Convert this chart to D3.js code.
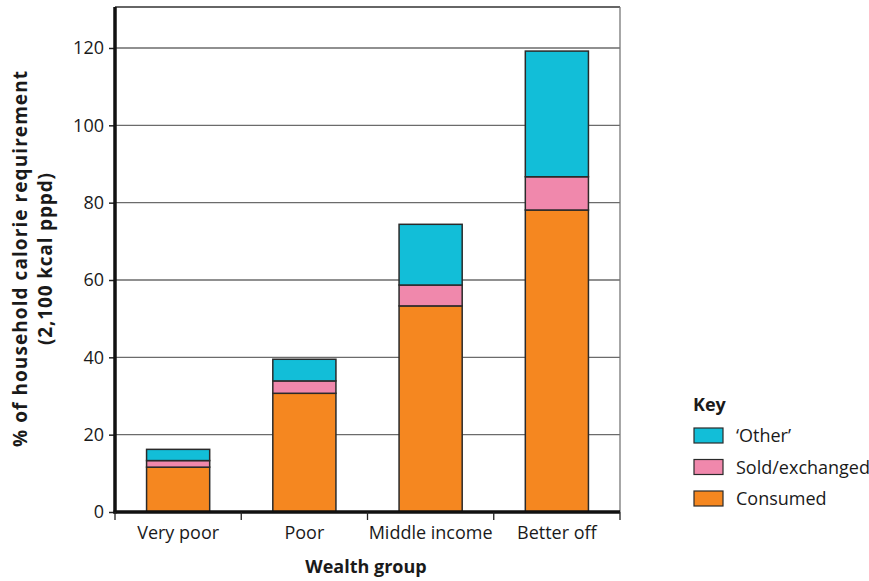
<!DOCTYPE html>
<html><head><meta charset="utf-8">
<script src="https://cdn.jsdelivr.net/npm/d3@7"></script>
<style>body{margin:0;background:#fff;} text{font-family:"Open Sans", Lato, sans-serif;fill:#1a1a1a;}</style>
</head><body>
<svg id="c" width="869" height="581"></svg>
<script>
const categories = ["Very poor", "Poor", "Middle income", "Better off"];
const consumed = [11.6, 30.7, 53.3, 78.1];
const sold = [1.7, 3.2, 5.4, 8.6];
const other = [2.9, 5.6, 15.7, 32.5];
const seriesNames = ["Consumed", "Sold/exchanged", "\u2018Other\u2019"];
const seriesColors = ["#F58720", "#F088AC", "#12BED8"];
const yTicks = [0, 20, 40, 60, 80, 100, 120];

const svg = d3.select("#c");
const L = 115, R = 620, T = 7, B = 512;
const x = d3.scaleBand().domain(categories).range([L, R]).paddingInner(0.5).paddingOuter(0.25);
const y = d3.scaleLinear().domain([0, 130.6]).range([B, T]);

const rows = categories.map((c, i) => ({cat: c, Consumed: consumed[i], "Sold/exchanged": sold[i], "\u2018Other\u2019": other[i]}));
const stacked = d3.stack().keys(seriesNames)(rows);

// gridlines
svg.append("g").selectAll("line").data(yTicks.filter(d => d > 0)).join("line")
  .attr("x1", L).attr("x2", R).attr("y1", d => y(d)).attr("y2", d => y(d))
  .attr("stroke", "#6b6b6b").attr("stroke-width", 1.3);
// frame top/right
svg.append("line").attr("x1", L).attr("x2", R).attr("y1", T).attr("y2", T).attr("stroke", "#333").attr("stroke-width", 1.5);
svg.append("line").attr("x1", R).attr("x2", R).attr("y1", T).attr("y2", B).attr("stroke", "#777").attr("stroke-width", 1.3);

// bars
svg.append("g").selectAll("g").data(stacked).join("g")
  .attr("fill", (d, i) => seriesColors[i])
  .selectAll("rect").data(d => d).join("rect")
  .attr("x", d => x(d.data.cat)).attr("width", x.bandwidth())
  .attr("y", d => y(d[1])).attr("height", d => y(d[0]) - y(d[1]))
  .attr("stroke", "#2a2a2a").attr("stroke-width", 1.5);

// y axis
const yAxis = svg.append("g").attr("transform", `translate(${L},0)`)
  .call(d3.axisLeft(y).tickValues(yTicks).tickSize(6).tickPadding(5));
yAxis.select(".domain").remove();
yAxis.selectAll(".tick line").attr("stroke", "#222").attr("stroke-width", 1.5);
yAxis.selectAll(".tick text").style("font-size", "18px").style("font-family", "'Open Sans', sans-serif").attr("fill", "#1a1a1a");
svg.append("line").attr("x1", L).attr("x2", L).attr("y1", T).attr("y2", B + 1.5).attr("stroke", "#111").attr("stroke-width", 3.5);

// x axis
svg.append("line").attr("x1", L - 1.5).attr("x2", R).attr("y1", B).attr("y2", B).attr("stroke", "#111").attr("stroke-width", 3.5);
const bounds = d3.range(categories.length + 1).map(i => L + i * (R - L) / categories.length);
svg.append("g").selectAll("line").data(bounds).join("line")
  .attr("x1", d => d).attr("x2", d => d).attr("y1", B).attr("y2", B + 8)
  .attr("stroke", "#222").attr("stroke-width", 1.3);
svg.append("g").selectAll("text").data(categories).join("text")
  .attr("x", d => x(d) + x.bandwidth() / 2).attr("y", 539)
  .attr("text-anchor", "middle").style("font-size", "18px").text(d => d);

// axis titles
svg.append("text").attr("x", 366).attr("y", 573).attr("text-anchor", "middle")
  .style("font-size", "18px").style("font-weight", "bold").text("Wealth group");
const yt = svg.append("text").attr("transform", "translate(0,259) rotate(-90)").attr("text-anchor", "middle")
  .style("font-size", "19px").style("font-weight", "bold");
yt.append("tspan").attr("x", 0).attr("y", 27).attr("textLength", 376).attr("lengthAdjust", "spacing").text("% of household calorie requirement");
yt.append("tspan").attr("x", 0).attr("y", 52).attr("textLength", 172).attr("lengthAdjust", "spacing").text("(2,100 kcal pppd)");

// legend
const lg = svg.append("g").attr("transform", "translate(693,0)");
lg.append("text").attr("x", 0).attr("y", 411).style("font-size", "18px").style("font-weight", "bold").text("Key");
const legItems = [2, 1, 0];
legItems.forEach((si, k) => {
  const yy = 428 + k * 31.5;
  lg.append("rect").attr("x", 1).attr("y", yy).attr("width", 29).attr("height", 15)
    .attr("fill", seriesColors[si]).attr("stroke", "#2a2a2a").attr("stroke-width", 1.2);
  lg.append("text").attr("x", 43).attr("y", yy + 14).style("font-size", "18px").text(seriesNames[si]);
});
</script>
</body></html>
